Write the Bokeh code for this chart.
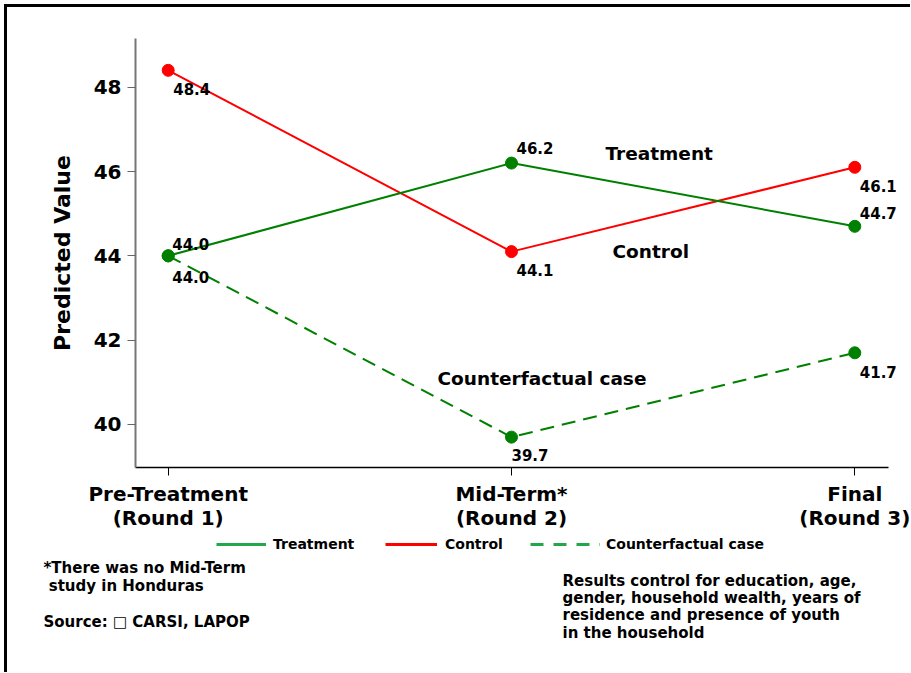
from bokeh.plotting import figure
from bokeh.models import Range1d, FixedTicker, Label, Legend, LegendItem, Arrow
from bokeh.embed import file_html
from bokeh.resources import INLINE

# ---------------- data ----------------
round_x = [0, 1, 2]
round_labels = ["Pre-Treatment\n(Round 1)", "Mid-Term*\n(Round 2)", "Final\n(Round 3)"]
treatment = [44.0, 46.2, 44.7]
control = [48.4, 44.1, 46.1]
counterfactual = [44.0, 39.7, 41.7]
y_ticks = [40, 42, 44, 46, 48]
series_names = ["Treatment", "Control", "Counterfactual case"]
note_left = "*There was no Mid-Term\n\u00a0study in Honduras"
note_source = "Source: \u25a1 CARSI, LAPOP"
note_right = ("Results control for education, age,\ngender, household wealth, years of\n"
              "residence and presence of youth\nin the household")

# ---------------- styles / layout ----------------
FONT = "DejaVu Sans"
GREEN = "#008000"
RED = "#ff0000"
LEG_GREEN = "#22a84a"
W, H = 910, 672
NAN = float("nan")

# pixel calibration of the data space (page px)
X0_PX, X_STEP = 167.7, 343.3       # x=0 position, px per round
Y48_PX, Y_STEP = 86.7, 42.16       # y=48 position, px per unit


def px_x(page_x):
    return (page_x - X0_PX) / X_STEP


def px_y(page_y):
    return 48 - (page_y - Y48_PX) / Y_STEP


XS, XE = px_x(0), px_x(W)
YS, YE = px_y(H), px_y(0)
AX_LEFT, AX_RIGHT = px_x(135), px_x(888.3)
AX_BOTTOM, AX_TOP = px_y(466.5), px_y(38)

p = figure(width=W, height=H, output_backend="svg", toolbar_location=None,
           x_range=Range1d(XS, XE), y_range=Range1d(YS, YE),
           min_border=0, min_border_left=0, min_border_right=0,
           min_border_top=0, min_border_bottom=0)
p.title.visible = False
p.outline_line_color = None
p.grid.visible = False
p.background_fill_color = "white"
p.border_fill_color = "white"

# axes (drawn at fixed positions inside the canvas)
xa = p.xaxis[0]
xa.fixed_location = AX_BOTTOM
xa.bounds = (AX_LEFT, AX_RIGHT)
xa.ticker = FixedTicker(ticks=round_x)
xa.major_label_overrides = {x: lab for x, lab in zip(round_x, round_labels)}
xa.major_label_text_font = FONT
xa.major_label_text_font_style = "bold"
xa.major_label_text_font_size = "20px"
xa.major_label_text_color = "black"
xa.major_label_text_line_height = 1.0
xa.major_label_standoff = 7
xa.major_tick_out = 8
xa.major_tick_in = 0
xa.minor_tick_line_color = None
xa.axis_line_color = "black"
xa.axis_line_width = 1.5
xa.major_tick_line_color = "black"

ya = p.yaxis[0]
ya.fixed_location = AX_LEFT
ya.bounds = (AX_BOTTOM, AX_TOP)
ya.ticker = FixedTicker(ticks=y_ticks)
ya.major_label_text_font = FONT
ya.major_label_text_font_style = "bold"
ya.major_label_text_font_size = "20px"
ya.major_label_text_color = "black"
ya.major_label_standoff = 6
ya.major_tick_out = 8
ya.major_tick_in = 0
ya.minor_tick_line_color = None
ya.axis_line_color = "#777777"
ya.axis_line_width = 2
ya.major_tick_line_color = "#666666"
ya.axis_label = "Predicted Value"
ya.axis_label_text_font = FONT
ya.axis_label_text_font_style = "bold"
ya.axis_label_text_font_size = "22px"
ya.axis_label_text_color = "black"
ya.axis_label_standoff = 16

# series
p.line(round_x, control, line_color=RED, line_width=2)
p.scatter(round_x, control, size=12, fill_color=RED, line_color=RED)
p.line(round_x, counterfactual, line_color=GREEN, line_width=2, line_dash="14 8")
p.scatter(round_x, counterfactual, size=12, fill_color=GREEN, line_color=GREEN)
p.line(round_x, treatment, line_color=GREEN, line_width=2)
p.scatter(round_x, treatment, size=12, fill_color=GREEN, line_color=GREEN)

# value labels (offsets in px)
label_offsets = {
    "treatment": [(4, 12), (5, 15), (5, 13)],
    "control": [(5, -19), (5, -18), (5, -19)],
    "counterfactual": [(4, -21), (0, -18), (5, -19)],
}
for key, vals in (("treatment", treatment), ("control", control),
                  ("counterfactual", counterfactual)):
    for x, v, (ox, oy) in zip(round_x, vals, label_offsets[key]):
        p.add_layout(Label(x=x, y=v, x_offset=ox, y_offset=oy, text=f"{v:.1f}",
                           text_font=FONT, text_font_style="bold",
                           text_font_size="15px", text_color="black",
                           text_align="left", text_baseline="middle"))

# series name annotations (page px positions)
name_page_pos = [(605, 153), (612, 251), (437, 378)]
for name, (px, py) in zip(series_names, name_page_pos):
    p.add_layout(Label(x=px_x(px), y=px_y(py), text=name,
                       text_font=FONT, text_font_style="bold",
                       text_font_size="18.5px", text_color="black",
                       text_align="left", text_baseline="middle"))

# legend (three separate entries, placed below the axis)
leg_specs = [
    (series_names[0], LEG_GREEN, "solid", 216, 50, 7),
    (series_names[1], RED, "solid", 385, 52, 8),
    (series_names[2], LEG_GREEN, "13 10", 530, 70, 6),
]
for name, col, dash, gx, gw, stand in leg_specs:
    r = p.line([NAN], [NAN], line_color=col, line_width=3, line_dash=dash)
    leg = Legend(items=[LegendItem(label=name, renderers=[r])],
                 location=(gx, H - 554),
                 orientation="horizontal", padding=0, margin=0, spacing=0,
                 glyph_width=gw, glyph_height=20, label_standoff=stand,
                 label_text_font=FONT, label_text_font_style="bold",
                 label_text_font_size="14px", label_text_color="black",
                 border_line_alpha=0, background_fill_alpha=0)
    p.add_layout(leg, "center")

# notes
p.add_layout(Label(x=px_x(43), y=px_y(558), text=note_left, text_font=FONT,
                   text_font_style="bold", text_font_size="15px",
                   text_line_height=1.03, text_align="left", text_baseline="top",
                   text_color="black"))
p.add_layout(Label(x=px_x(43), y=px_y(621), text=note_source, text_font=FONT,
                   text_font_style="bold", text_font_size="15px",
                   text_align="left", text_baseline="middle", text_color="black"))
p.add_layout(Label(x=px_x(562), y=px_y(571), text=note_right, text_font=FONT,
                   text_font_style="bold", text_font_size="15px",
                   text_line_height=0.97, text_align="left", text_baseline="top",
                   text_color="black"))

# frame border lines (top and left)
p.add_layout(Arrow(end=None, x_start=px_x(3.5), y_start=px_y(5),
                   x_end=px_x(W), y_end=px_y(5),
                   line_color="black", line_width=3))
p.add_layout(Arrow(end=None, x_start=px_x(5), y_start=px_y(3.5),
                   x_end=px_x(5), y_end=px_y(H),
                   line_color="black", line_width=3))

open("out.html", "w").write(file_html(p, INLINE))
